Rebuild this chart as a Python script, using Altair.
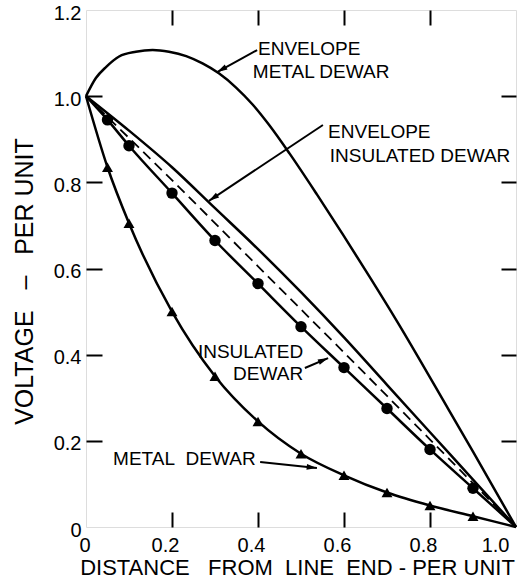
import math
import altair as alt
import pandas as pd

W, H = 430, 517
YMAX = 1.2

# ---- data ----
env_metal_x = [0.0, 0.023, 0.047, 0.077, 0.116, 0.155, 0.193, 0.233, 0.271, 0.309, 0.349, 0.388,
               0.426, 0.474, 0.537, 0.598, 0.660, 0.723, 0.839, 0.90, 1.0]
env_metal_y = [1.0, 1.042, 1.068, 1.092, 1.103, 1.107, 1.103, 1.093, 1.076, 1.053, 1.020, 0.980,
               0.933, 0.866, 0.772, 0.678, 0.580, 0.478, 0.280, 0.175, 0.0]

env_ins_x = [0.0, 0.1, 0.2, 0.3, 0.4, 0.5, 0.6, 0.7, 0.8, 0.9, 1.0]
env_ins_y = [1.0, 0.92, 0.835, 0.74, 0.645, 0.545, 0.44, 0.33, 0.22, 0.11, 0.0]

dashed_x = [0.0, 0.2, 0.4, 0.6, 0.8, 1.0]
dashed_y = [1.0, 0.805, 0.605, 0.405, 0.203, 0.0]

ins_x = [0.0, 0.05, 0.1, 0.2, 0.3, 0.4, 0.5, 0.6, 0.7, 0.8, 0.9, 1.0]
ins_y = [1.0, 0.945, 0.885, 0.775, 0.665, 0.565, 0.465, 0.37, 0.275, 0.18, 0.09, 0.0]

met_x = [0.0, 0.05, 0.1, 0.2, 0.3, 0.4, 0.5, 0.6, 0.7, 0.8, 0.9, 1.0]
met_y = [1.0, 0.835, 0.705, 0.50, 0.35, 0.245, 0.17, 0.12, 0.08, 0.05, 0.025, 0.0]

x_values = [0, 0.2, 0.4, 0.6, 0.8, 1.0]
y_values = [0, 0.2, 0.4, 0.6, 0.8, 1.0, 1.2]
x_ticks = [0.2, 0.4, 0.6, 0.8]
y_ticks = [0.2, 0.4, 0.6, 0.8, 1.0]

# annotation labels (data units)
lab_left_text = ["ENVELOPE", "METAL DEWAR", "ENVELOPE", "INSULATED DEWAR", "METAL\u00a0\u00a0DEWAR"]
lab_left_x = [0.400, 0.388, 0.563, 0.567, 0.063]
lab_left_y = [1.096, 1.042, 0.903, 0.847, 0.144]
lab_right_text = ["INSULATED", "DEWAR"]
lab_right_x = [0.505, 0.505]
lab_right_y = [0.392, 0.341]

# arrows: tail -> tip (data units)
arr_tail_x = [0.398, 0.551, 0.509, 0.405]
arr_tail_y = [1.107, 0.933, 0.369, 0.151]
arr_tip_x = [0.305, 0.286, 0.563, 0.537]
arr_tip_y = [1.056, 0.757, 0.392, 0.137]

# ---- build tables ----
def series(xs, ys):
    return pd.DataFrame({"x": xs, "y": ys})

xs = alt.Scale(domain=[0, 1], nice=False)
ys = alt.Scale(domain=[0, YMAX], nice=False)

lab_expr = "datum.value == 0 ? '0' : format(datum.value, '.1f')"

x_axis = alt.Axis(
    orient="bottom", values=x_values, labelExpr=lab_expr, ticks=False, domain=False, grid=False,
    labelFontSize=20, labelBaseline="alphabetic", labelPadding=24, labelOffset=-7, labelColor="black",
    title="DISTANCE\u00a0\u00a0\u00a0FROM\u00a0\u00a0LINE\u00a0\u00a0END - PER UNIT",
    titleFontSize=22, titleFontWeight="normal", titleColor="black",
    titleBaseline="alphabetic", titleX=211, titleY=47)
y_axis = alt.Axis(
    orient="left", values=y_values, labelExpr=lab_expr, ticks=False, domain=False, grid=False,
    labelFontSize=20, labelPadding=5, labelOffset=3, labelColor="black",
    title="VOLTAGE\u00a0\u00a0\u00a0\u2013\u00a0\u00a0\u00a0PER UNIT",
    titleFontSize=25, titleFontWeight="normal", titleColor="black",
    titleBaseline="alphabetic", titleAngle=270, titleX=-54, titleY=271)


def tick_axis(orient, values, length=15):
    # tick-only axis moved inside the frame so its ticks point inward to the frame edge
    return alt.Axis(orient=orient, values=values, labels=False, title=None, domain=False, grid=False,
                    ticks=True, tickSize=length, tickWidth=2, tickColor="black", offset=-length)


base_x = alt.X("x:Q", scale=xs, axis=None)
base_y = alt.Y("y:Q", scale=ys, axis=None)


def line(xs_, ys_, dash=None, width=2.5, ex=base_x, ey=base_y):
    kw = dict(color="black", strokeWidth=width, interpolate="monotone")
    if dash:
        kw["strokeDash"] = dash
    return alt.Chart(series(xs_, ys_)).mark_line(**kw).encode(x=ex, y=ey)


l_env_metal = line(env_metal_x, env_metal_y,
                   ex=alt.X("x:Q", scale=xs, axis=x_axis), ey=alt.Y("y:Q", scale=ys, axis=y_axis))
l_env_ins = line(env_ins_x, env_ins_y)
l_dash = line(dashed_x, dashed_y, dash=[10, 6], width=1.8)
l_ins = line(ins_x, ins_y)
l_met = line(met_x, met_y)

p_ins = alt.Chart(series(ins_x[1:-1], ins_y[1:-1])).mark_point(
    shape="circle", filled=True, color="black", size=130, opacity=1).encode(x=base_x, y=base_y)
p_met = alt.Chart(series(met_x[1:-1], met_y[1:-1])).mark_point(
    shape="triangle-up", filled=True, color="black", size=120, opacity=1).encode(x=base_x, y=base_y)

# invisible layers carrying the inward tick-only axes on all four sides
tick_df = series(x_ticks + [1.0], y_ticks)
frame_tr = alt.Chart(tick_df).mark_point(opacity=0).encode(
    x=alt.X("x:Q", scale=xs, axis=tick_axis("top", x_ticks)),
    y=alt.Y("y:Q", scale=ys, axis=tick_axis("right", y_ticks)))
frame_bl = alt.Chart(tick_df).mark_point(opacity=0).encode(
    x=alt.X("x:Q", scale=xs, axis=tick_axis("bottom", x_ticks)),
    y=alt.Y("y:Q", scale=ys, axis=tick_axis("left", y_ticks, 16)))

# arrow shafts
arr_df = pd.DataFrame({"x": arr_tail_x, "y": arr_tail_y, "x2": arr_tip_x, "y2": arr_tip_y})
segs = alt.Chart(arr_df).mark_rule(color="black", strokeWidth=2).encode(
    x=base_x, y=base_y, x2="x2:Q", y2="y2:Q")

# annotations
txt_l = alt.Chart(pd.DataFrame({"x": lab_left_x, "y": lab_left_y, "t": lab_left_text})).mark_text(
    align="left", baseline="alphabetic", fontSize=19, color="black").encode(x=base_x, y=base_y, text="t:N")
txt_r = alt.Chart(pd.DataFrame({"x": lab_right_x, "y": lab_right_y, "t": lab_right_text})).mark_text(
    align="right", baseline="alphabetic", fontSize=19, color="black").encode(x=base_x, y=base_y, text="t:N")

angles = []
for a, b, c, d in zip(arr_tail_x, arr_tail_y, arr_tip_x, arr_tip_y):
    dx = (c - a) * W
    dys = -(d - b) * H / YMAX
    angles.append(math.degrees(math.atan2(dx, -dys)) % 360)

head_df = pd.DataFrame({"tx": arr_tip_x, "ty": arr_tip_y, "ang": angles})
arr_heads = alt.Chart(head_df).mark_point(
    shape="M0,0L0.28,1L-0.28,1Z", filled=True, color="black", size=420, opacity=1).encode(
    x=alt.X("tx:Q", scale=xs, axis=None), y=alt.Y("ty:Q", scale=ys, axis=None),
    angle=alt.Angle("ang:Q", scale=None))

chart = alt.layer(
    l_env_metal, frame_tr, frame_bl, l_env_ins, l_dash, l_ins, l_met, p_ins, p_met,
    segs, txt_l, txt_r, arr_heads
).resolve_axis(
    x="independent", y="independent"
).properties(
    width=W, height=H,
    padding={"left": 86, "top": 10, "right": 16, "bottom": 59},
    autosize=alt.AutoSizeParams(type="none"),
    background="white",
).configure_view(
    stroke="black", strokeWidth=3
).configure(font="Liberation Sans")

chart.save("out.html", embed_options={"renderer": "svg", "actions": False})
